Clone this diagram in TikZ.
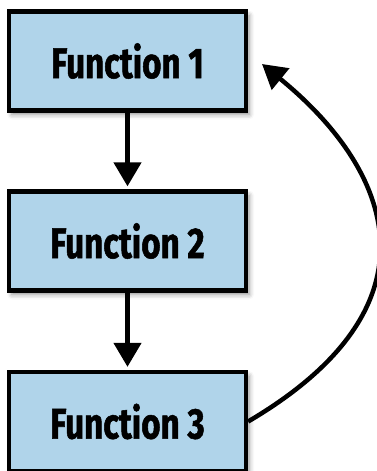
\documentclass[tikz,border=0pt]{standalone}
\usepackage{fontspec}
\setmainfont{Fira Sans}[FakeStretch=0.77, BoldFeatures={FakeBold=1.2}]
\usetikzlibrary{arrows.meta,shadows.blur}
\definecolor{boxblue}{HTML}{B0D4EA}
\begin{document}
\begin{tikzpicture}[x=1pt,y=-1pt,
  funcbox/.style={draw=black, line width=4.3pt, fill=boxblue,
    minimum width=237pt, minimum height=99pt, inner sep=0pt,
    font=\fontsize{43}{44}\selectfont\bfseries,
    blur shadow={shadow xshift=3pt, shadow yshift=-4pt, shadow blur radius=5pt, shadow opacity=45}},
  arr/.style={line width=4.5pt, -{Triangle[width=27pt,length=24pt]}}]
\useasboundingbox (0,0) rectangle (376,471);
\node[funcbox] (f1) at (127.5,61) {Function 1};
\node[funcbox] (f2) at (127.5,241) {Function 2};
\node[funcbox] (f3) at (127.5,421.5) {Function 3};
\coordinate (ret) at (262,64);
\draw[arr, shorten >=3pt] (f1) -- (f2);
\draw[arr, shorten >=3pt] (f2) -- (f3);
\draw[arr] (f3.east) .. controls (446,305) and (392,170) .. (ret);
\end{tikzpicture}
\end{document}
